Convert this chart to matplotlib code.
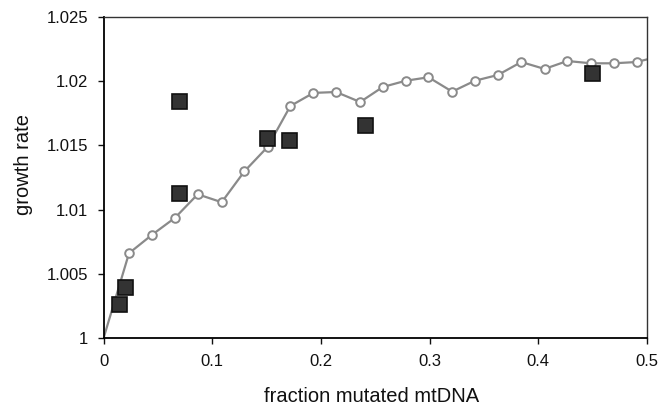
import matplotlib.pyplot as plt

# model curve (open circles)
model_x = [0.0, 0.0233, 0.0442, 0.0657, 0.0865, 0.1086, 0.1295, 0.151, 0.1718,
           0.193, 0.2139, 0.236, 0.2568, 0.278, 0.2989, 0.3207, 0.3416, 0.3628,
           0.3843, 0.4057, 0.4266, 0.4484, 0.4693, 0.4904, 0.5110]
model_y = [1.0, 1.00659, 1.00801, 1.00936, 1.01119, 1.01057, 1.01298, 1.0149,
           1.01808, 1.0191, 1.01917, 1.01839, 1.01956, 1.02005, 1.02032, 1.0192,
           1.02005, 1.0205, 1.02151, 1.02097, 1.02159, 1.02141, 1.02141, 1.02151,
           1.02195]

# measured values (filled squares)
obs_x = [0.0144, 0.0199, 0.069, 0.069, 0.1504, 0.1703, 0.2409, 0.449]
obs_y = [1.0026, 1.00398, 1.01847, 1.01127, 1.01556, 1.01543, 1.01657, 1.02068]

xticks = [0, 0.1, 0.2, 0.3, 0.4, 0.5]
xtick_labels = ['0', '0.1', '0.2', '0.3', '0.4', '0.5']
yticks = [1, 1.005, 1.01, 1.015, 1.02, 1.025]
ytick_labels = ['1', '1.005', '1.01', '1.015', '1.02', '1.025']

plt.rcParams['font.family'] = ['Liberation Sans', 'DejaVu Sans']

fig = plt.figure(figsize=(6.63, 4.05), dpi=100)
ax = fig.add_axes([0.1564, 0.1662, 0.8195, 0.7911])

ax.plot(model_x, model_y, color='#8a8a8a', lw=1.6, marker='o', ms=6.2,
        mfc='white', mec='#8a8a8a', mew=1.4, markevery=list(range(1, len(model_x) - 1)),
        zorder=2)
ax.plot(obs_x, obs_y, ls='none', marker='s', ms=10.8, mfc='#333333', mec='#111111',
        mew=1.2, zorder=3)

ax.set_xlim(0, 0.5)
ax.set_ylim(1, 1.025)
ax.set_xticks(xticks)
ax.set_xticklabels(xtick_labels)
ax.set_yticks(yticks)
ax.set_yticklabels(ytick_labels)
ax.tick_params(direction='out', length=4.5, width=1, labelsize=12, pad=6.5, colors='#111111')
ax.tick_params(axis='x', pad=7.5)

for side in ['left', 'bottom']:
    ax.spines[side].set_linewidth(1.3)
for side in ['top', 'right']:
    ax.spines[side].set_linewidth(1.0)
    ax.spines[side].set_color('#333333')

ax.set_xlabel('fraction mutated mtDNA', fontsize=14.5, labelpad=13, color='#111111')
ax.set_ylabel('growth rate', fontsize=14.5, labelpad=10, color='#111111')
# the labels sit a little off centre in the original
ax.xaxis.label.set_x(0.493)
ax.yaxis.label.set_y(0.539)

fig.savefig('out.png', dpi=100)
